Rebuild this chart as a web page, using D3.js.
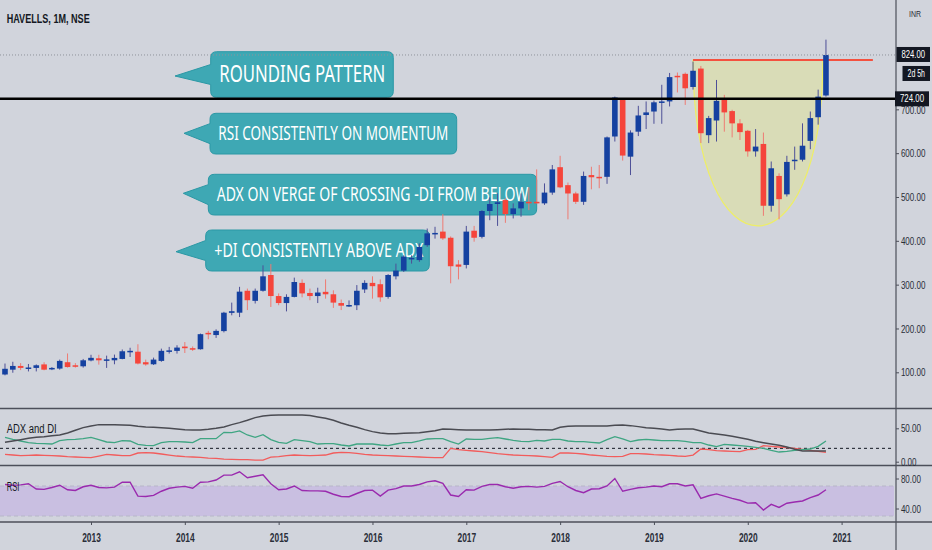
<!DOCTYPE html>
<html>
<head>
<meta charset="utf-8">
<script src="https://cdn.jsdelivr.net/npm/d3@7"></script>
<style>
  body { margin: 0; background: #d1d4dc; }
  svg { display: block; font-family: "Liberation Sans", Arial, sans-serif; }
</style>
</head>
<body>
<svg id="chart" width="932" height="550"></svg>
<script>
// monthly bars, Feb 2012 .. Nov 2020
const months = d3.timeMonth.range(new Date(2012, 1, 1), new Date(2020, 11, 1));

const opens = [
  95, 106, 114.5, 110, 110, 118, 107, 108.5, 123, 116, 113.7,
  127, 132, 129, 127.4, 130.5, 148, 147, 123, 118.3, 126, 147, 148.8,
  158.7, 155, 152.6, 190, 185, 194, 235.6, 236, 286, 263, 286, 322,
  274, 258, 272, 304, 281, 274, 283.6, 278, 258, 253, 253, 289,
  304, 301, 272, 319, 332, 360, 356, 390, 417, 421, 407, 346,
  345, 423, 409, 468, 484, 493, 461, 474, 489, 489, 485.5, 510,
  568, 527, 508, 489, 550, 546, 546, 638, 723, 592, 649, 687,
  695, 717, 718, 776.5, 781, 751, 793, 641, 674.5, 723, 696, 668,
  651, 604, 621, 480, 548, 506, 583, 585, 628, 682, 731.6
];
const highs = [
  120, 124, 121, 119, 118, 123, 112, 129, 143, 121, 130.5,
  140, 140, 138, 140.4, 152, 156, 164, 129, 133.5, 154, 158, 161.7,
  169, 159, 188.4, 194.5, 198, 238, 259, 295, 291, 291, 344, 347,
  280, 278, 316, 312, 291, 293, 312, 287, 266, 264, 299, 310,
  319, 312, 324, 348, 367, 367, 394, 428, 432, 461, 410, 356,
  434, 434, 470, 499, 508, 497, 485.5, 508, 522, 563, 531, 573,
  594, 533, 512, 558, 569, 573, 638, 729, 725.5, 652, 708, 718,
  720, 756, 783, 784, 784, 809, 799, 685, 767, 733, 699, 677.5,
  653, 655, 647, 581, 554, 594, 615, 668, 695, 745, 859
];
const lows = [
  93, 99, 105, 102, 102, 104.6, 105, 106, 110.7, 110.7, 110.7,
  125, 117.5, 110, 118.3, 129.7, 135, 118, 115, 116.8, 124, 142.7, 142.7,
  144, 148.8, 151.8, 175.4, 178.5, 191, 230, 226, 242, 257, 284, 249,
  253, 239, 271, 271, 264.5, 258, 268, 247, 242, 249, 242, 281,
  268, 261, 268, 312, 329, 348, 352, 386, 405, 402, 303, 312,
  337, 398, 405.5, 447, 434, 441, 451, 455, 470, 485, 482, 505,
  520, 449, 484, 482, 517.5, 520, 530, 626.5, 583, 550, 639, 655,
  667, 667, 706.5, 738.5, 710, 745, 623, 623, 626.5, 649, 636, 630,
  592, 592, 457, 466.5, 449, 501, 562, 581, 609, 665, 729
];
const closes = [
  108, 114.5, 110, 111, 116, 106, 110, 126, 112, 113, 127.4,
  133, 127.4, 129.5, 132.8, 148, 149, 120, 118, 129, 149, 150, 156.4,
  155, 152.6, 187, 187, 194.5, 236, 239.4, 284, 264.5, 286, 319, 274,
  258, 272, 306, 280, 274, 282, 278, 259, 252, 253.5, 286, 304,
  296.5, 271, 322, 332, 364, 361, 386, 417, 418, 405.5, 342, 341,
  421, 407, 468, 484, 488, 461, 474, 489, 485.5, 485.5, 510, 563,
  522, 508, 489, 548, 545, 543, 636, 727, 594.5, 647, 686, 693,
  716, 718, 773.5, 774, 748, 788, 645.5, 680, 719.4, 693, 668, 648,
  604, 615, 480, 565.5, 495, 580, 585, 617, 680, 729, 824
];

const adx = [
  29, 31, 33, 35, 36.5, 37.5, 39, 40, 43, 47, 51,
  53.5, 55.5, 55.5, 55.5, 55, 54.5, 53, 52, 51.5, 51, 50, 49,
  48, 47.5, 47.5, 48.5, 50, 52, 55.5, 58.5, 62, 66, 68.5, 69.5,
  70, 70, 70, 70, 69, 67, 65, 62, 58, 54.5, 51.5, 48,
  45, 43, 42, 42, 42.5, 43, 43.5, 45, 46.5, 49, 48.5, 48,
  47.5, 47.5, 47.5, 47.5, 48, 48.5, 49, 48.5, 48.5, 48, 48, 47.5,
  51.5, 53, 53.5, 53.5, 53.5, 53.5, 53.5, 54.5, 55, 54, 52.5, 51,
  50, 49, 47.5, 48.5, 49, 49, 46, 43, 41.5, 40, 38, 36,
  33.5, 30.5, 28.5, 26.5, 24.5, 22, 18.5, 16, 16, 16, 16
];
const diPlus = [
  36.5, 33.5, 31, 28.5, 27.5, 27, 26.5, 31.5, 33, 33.5, 34.5,
  36.5, 33, 29.5, 28.5, 31.5, 31, 26, 24.5, 24, 28.5, 30, 30,
  29.5, 28.5, 34.5, 34.5, 34.5, 44, 43.5, 46, 40, 36.5, 40.5, 33,
  29, 27.5, 33, 31.5, 30, 26.5, 27, 27, 25, 23.5, 26.5, 26.5,
  26.5, 25, 24, 26.5, 28.5, 28.5, 31, 34, 34.5, 34.5, 30, 26.5,
  34, 33.5, 33.5, 35, 36, 34, 32, 30.5, 30, 32, 31, 33.5,
  33.5, 31, 30, 30, 29, 28, 33, 37.5, 34, 30, 32.5, 33.5,
  32.5, 31.5, 31.5, 31.5, 30.5, 28.5, 28.5, 25, 22.5, 26, 25, 24,
  23, 21.5, 20, 17, 14.5, 15.5, 17, 18, 19, 23, 31
];
const diMinus = [
  11, 10, 9, 9.5, 10, 9.5, 9, 8.5, 7.5, 7, 6.5,
  6, 8.5, 11, 10, 9, 9, 13, 13.5, 13, 11.5, 10, 8.5,
  7.5, 7, 6.5, 5.5, 5, 4, 3.5, 3, 3, 2.5, 2.5, 7,
  7.5, 9, 10, 9.5, 9, 9.5, 10, 13, 14, 13.5, 12.5, 11,
  10, 9.5, 9, 8.5, 8, 7.5, 7, 6.5, 6, 6, 20, 18,
  17, 16, 15, 13.5, 12, 11, 10, 9.5, 9, 8.5, 7.5, 6.5,
  13, 13, 12.5, 11.5, 10, 9, 8, 7.5, 8, 12, 12, 11.5,
  10.5, 10, 9.5, 8.5, 8, 10, 19, 18, 16.5, 16, 15.5, 15,
  18, 18.5, 24, 23, 22, 21, 20, 18.5, 17, 15.5, 14
];
const rsi = [
  72, 71, 71.5, 73, 66, 65.5, 68, 71, 65, 64, 69,
  71, 68, 67.5, 68.5, 75, 75, 56.5, 56, 57.5, 63, 67, 68.5,
  69.5, 67, 75, 75.5, 78, 84.5, 84.5, 89, 81, 83, 85, 73,
  65, 66, 70, 64, 63.5, 63.5, 63, 59, 56, 55.7, 60, 64,
  64.5, 56.5, 64.5, 66.5, 70, 70, 72, 75.5, 77, 73.5, 58, 56,
  65, 64.5, 69.5, 72, 72, 69, 67, 69, 69.5, 68.5, 69.5, 73.5,
  76, 69, 64, 61, 66, 66.3, 70, 80, 63, 65.5, 67.6, 68.5,
  70, 69, 73, 73, 70, 71.5, 53.5, 57, 59.5, 56.5, 53.5, 51,
  47.2, 47.7, 38, 45.5, 41.5, 47, 48.6, 50, 54.5, 58, 65
];

const years = ['2013', '2014', '2015', '2016', '2017', '2018', '2019', '2020', '2021'];
const priceTicks = [100, 200, 300, 400, 500, 600, 700];
const adxTicks = [0, 50];
const rsiTicks = [40, 80];

const lastPrice = 824;
const levelPrice = 724;
const rimPrice = 812.5;

const callouts = [
  { text: 'ROUNDING PATTERN', box: [210.7, 51.7, 393.3, 97.3], tip: [175, 76], tx: 219.3, ty: 81.7, size: 23, len: 166 },
  { text: 'RSI CONSISTENTLY ON MOMENTUM', box: [210, 113.3, 456.7, 154], tip: [184, 133.3], tx: 218.3, ty: 140, size: 20, len: 230 },
  { text: 'ADX ON VERGE OF CROSSING -DI FROM BELOW', box: [208.3, 174.3, 536.7, 215], tip: [183.3, 193.3], tx: 216.7, ty: 201, size: 20, len: 311.7 },
  { text: '+DI CONSISTENTLY ABOVE ADX', box: [205.7, 230, 429.3, 271], tip: [176, 251.7], tx: 214.3, ty: 256.7, size: 20.5, len: 209 }
];

const W = 932, H = 550, axisX = 896;
const sepColor = '#4c4f5a';
const textColor = '#2a2e39';
const upColor = '#1541a0', downColor = '#f5453b';
const upWick = '#4d4f97', downWick = '#ee7b73';

// months counted from Jan 2013, one bar per slot
const offset = (d) => (d.getFullYear() - 2013) * 12 + d.getMonth();

const x = d3.scaleLinear().domain([0, 96]).range([91, 841.6]);
const yP = d3.scaleLinear().domain([100, 800]).range([372.3, 65.5]);
const yA = d3.scaleLinear().domain([0, 50]).range([461.7, 428.3]);
const yR = d3.scaleLinear().domain([40, 80]).range([508.5, 478.5]);

const svg = d3.select('#chart');
svg.append('rect').attr('width', W).attr('height', H).attr('fill', '#d1d4dc');

const defs = svg.append('defs');
defs.append('clipPath').attr('id', 'clipPrice')
  .append('rect').attr('x', 0).attr('y', 0).attr('width', axisX).attr('height', 408);
defs.append('clipPath').attr('id', 'clipAdx')
  .append('rect').attr('x', 0).attr('y', 409).attr('width', axisX).attr('height', 56);
defs.append('clipPath').attr('id', 'clipRsi')
  .append('rect').attr('x', 0).attr('y', 466).attr('width', axisX).attr('height', 55);

// ---------- price pane ----------
const gPrice = svg.append('g').attr('clip-path', 'url(#clipPrice)');

svg.append('text')
  .attr('x', 6.7).attr('y', 23)
  .attr('font-size', 13).attr('font-weight', 'bold').attr('fill', '#131722')
  .attr('textLength', 83).attr('lengthAdjust', 'spacingAndGlyphs')
  .text('HAVELLS, 1M, NSE');

// callouts
function calloutPath(c) {
  const r = 6, [x0, y0, x1, y1] = c.box, cy = (y0 + y1) / 2, h = 10;
  return `M${x0 + r},${y0} H${x1 - r} Q${x1},${y0} ${x1},${y0 + r} V${y1 - r} ` +
    `Q${x1},${y1} ${x1 - r},${y1} H${x0 + r} Q${x0},${y1} ${x0},${y1 - r} V${cy + h} ` +
    `L${c.tip[0]},${c.tip[1]} L${x0},${cy - h} V${y0 + r} Q${x0},${y0} ${x0 + r},${y0} Z`;
}

const gCall = gPrice.append('g');
gCall.selectAll('path').data(callouts).join('path')
  .attr('d', calloutPath)
  .attr('fill', '#3ea8b4')
  .attr('stroke', '#2b98a5')
  .attr('stroke-width', 1);
gCall.selectAll('text').data(callouts).join('text')
  .attr('x', (d) => d.tx).attr('y', (d) => d.ty)
  .attr('font-family', '"Noto Sans", "Open Sans", sans-serif')
  .attr('font-size', (d) => d.size)
  .attr('fill', '#ffffff')
  .attr('textLength', (d) => d.len)
  .attr('lengthAdjust', 'spacingAndGlyphs')
  .text((d) => d.text);

// rounding shape (cubic curve hanging from the rim)
{
  const xl = x(77), xr = x(93.6), yt = yP(rimPrice), yb = yP(434);
  const yc = (4 * yb - yt) / 3;
  gPrice.append('path')
    .attr('d', `M${xl},${yt} L${xr},${yt} C${xr},${yc} ${xl},${yc} ${xl},${yt} Z`)
    .attr('fill', 'rgba(242,242,70,0.25)')
    .attr('stroke', '#eeee66')
    .attr('stroke-width', 1.2);
}

// rim line
gPrice.append('line')
  .attr('x1', x(77)).attr('x2', x(100))
  .attr('y1', yP(rimPrice)).attr('y2', yP(rimPrice))
  .attr('stroke', '#f4513f').attr('stroke-width', 2);

// candles
const bars = months.map((d, i) => ({
  m: offset(d), o: opens[i], h: highs[i], l: lows[i], c: closes[i]
}));
const bodyW = 5.6;
const gBars = gPrice.append('g');
gBars.selectAll('line').data(bars).join('line')
  .attr('x1', (d) => x(d.m)).attr('x2', (d) => x(d.m))
  .attr('y1', (d) => yP(d.h)).attr('y2', (d) => yP(d.l))
  .attr('stroke', (d) => (d.c >= d.o ? upWick : downWick))
  .attr('stroke-width', 1);
gBars.selectAll('rect').data(bars).join('rect')
  .attr('x', (d) => x(d.m) - bodyW / 2)
  .attr('y', (d) => yP(Math.max(d.o, d.c)))
  .attr('width', bodyW)
  .attr('height', (d) => Math.max(1.5, Math.abs(yP(d.o) - yP(d.c))))
  .attr('fill', (d) => (d.c >= d.o ? upColor : downColor));

// last price dotted line, 724 level
gPrice.append('line')
  .attr('x1', 0).attr('x2', axisX)
  .attr('y1', yP(lastPrice)).attr('y2', yP(lastPrice))
  .attr('stroke', '#8f929b').attr('stroke-width', 1).attr('stroke-dasharray', '1,2');
gPrice.append('line')
  .attr('x1', 0).attr('x2', axisX)
  .attr('y1', yP(levelPrice)).attr('y2', yP(levelPrice))
  .attr('stroke', '#000').attr('stroke-width', 2.5);

// ---------- ADX pane ----------
const gAdx = svg.append('g').attr('clip-path', 'url(#clipAdx)');
gAdx.append('line')
  .attr('x1', 0).attr('x2', axisX - 3)
  .attr('y1', yA(20)).attr('y2', yA(20))
  .attr('stroke', '#131722').attr('stroke-width', 1).attr('stroke-dasharray', '3,3');

const lineOf = (vals, yScale) => d3.line()
  .x((d, i) => x(offset(months[i])))
  .y((d) => yScale(d))(vals);

gAdx.append('path').attr('d', lineOf(diMinus, yA))
  .attr('fill', 'none').attr('stroke', '#f25c5c').attr('stroke-width', 1.3);
gAdx.append('path').attr('d', lineOf(diPlus, yA))
  .attr('fill', 'none').attr('stroke', '#3fa582').attr('stroke-width', 1.3);
gAdx.append('path').attr('d', lineOf(adx, yA))
  .attr('fill', 'none').attr('stroke', '#4a4b52').attr('stroke-width', 1.5);

svg.append('text')
  .attr('x', 6.7).attr('y', 433)
  .attr('font-size', 12).attr('fill', '#131722')
  .attr('textLength', 50).attr('lengthAdjust', 'spacingAndGlyphs')
  .text('ADX and DI');

// ---------- RSI pane ----------
const gRsi = svg.append('g').attr('clip-path', 'url(#clipRsi)');
gRsi.append('rect')
  .attr('x', 0).attr('width', axisX - 2)
  .attr('y', yR(70)).attr('height', yR(30) - yR(70))
  .attr('fill', '#c9bfe1');
[70, 30].forEach((v) => {
  gRsi.append('line')
    .attr('x1', 0).attr('x2', axisX - 2)
    .attr('y1', yR(v)).attr('y2', yR(v))
    .attr('stroke', '#b7b6c8').attr('stroke-width', 1).attr('stroke-dasharray', '4,3');
});
gRsi.append('path').attr('d', lineOf(rsi, yR))
  .attr('fill', 'none').attr('stroke', '#9a2aae').attr('stroke-width', 1.4);

svg.append('text')
  .attr('x', 6.7).attr('y', 491)
  .attr('font-size', 12).attr('fill', '#131722')
  .attr('textLength', 12.6).attr('lengthAdjust', 'spacingAndGlyphs')
  .text('RSI');

// ---------- separators and axes ----------
[408.5, 465.5, 522].forEach((yy) => {
  svg.append('line')
    .attr('x1', 0).attr('x2', W).attr('y1', yy).attr('y2', yy)
    .attr('stroke', sepColor).attr('stroke-width', 1.4);
});
svg.append('line')
  .attr('x1', axisX).attr('x2', axisX).attr('y1', 0).attr('y2', H)
  .attr('stroke', sepColor).attr('stroke-width', 1.2);

const squeeze = 0.7;
function rightAxis(scale, ticks) {
  const g = svg.append('g')
    .attr('transform', `translate(${axisX},0)`)
    .call(d3.axisRight(scale).tickValues(ticks).tickSize(3).tickPadding(4)
      .tickFormat(d3.format('.2f')));
  g.select('.domain').remove();
  g.selectAll('line').attr('stroke', sepColor);
  g.selectAll('text')
    .attr('font-size', 11.5).attr('fill', textColor)
    .attr('font-family', '"Liberation Sans", Arial, sans-serif')
    .attr('transform', `scale(${squeeze},1)`);
  return g;
}
rightAxis(yP, priceTicks);
rightAxis(yA, adxTicks);
rightAxis(yR, rsiTicks);

const gx = svg.append('g')
  .attr('transform', 'translate(0,522)')
  .call(d3.axisBottom(x).tickValues(d3.range(0, 97, 12)).tickSize(3).tickPadding(8)
    .tickFormat((d, i) => years[i]));
gx.select('.domain').remove();
gx.selectAll('line').attr('stroke', sepColor);
gx.selectAll('text')
  .attr('font-size', 12).attr('font-weight', 'bold').attr('fill', textColor)
  .attr('font-family', '"Liberation Sans", Arial, sans-serif')
  .attr('transform', `scale(${squeeze},1)`);

// price tags on the axis
function tag(yc, label, x0, w) {
  svg.append('rect')
    .attr('x', x0).attr('y', yc - 7.5).attr('width', w).attr('height', 15)
    .attr('fill', '#131722');
  svg.append('text')
    .attr('x', x0 + w / 2).attr('y', yc + 3.5)
    .attr('text-anchor', 'middle')
    .attr('font-size', 10).attr('fill', '#ffffff')
    .attr('textLength', w - 10).attr('lengthAdjust', 'spacingAndGlyphs')
    .text(label);
}
tag(yP(levelPrice), d3.format('.2f')(levelPrice), 895, 34);
tag(yP(lastPrice) - 0.5, d3.format('.2f')(lastPrice), 896.5, 33.5);
tag(yP(lastPrice) + 18.5, '2d 5h', 902.5, 27.5);

svg.append('text')
  .attr('x', 915).attr('y', 17)
  .attr('text-anchor', 'middle')
  .attr('font-size', 9).attr('fill', textColor)
  .attr('textLength', 12).attr('lengthAdjust', 'spacingAndGlyphs')
  .text('INR');
</script>
</body>
</html>
